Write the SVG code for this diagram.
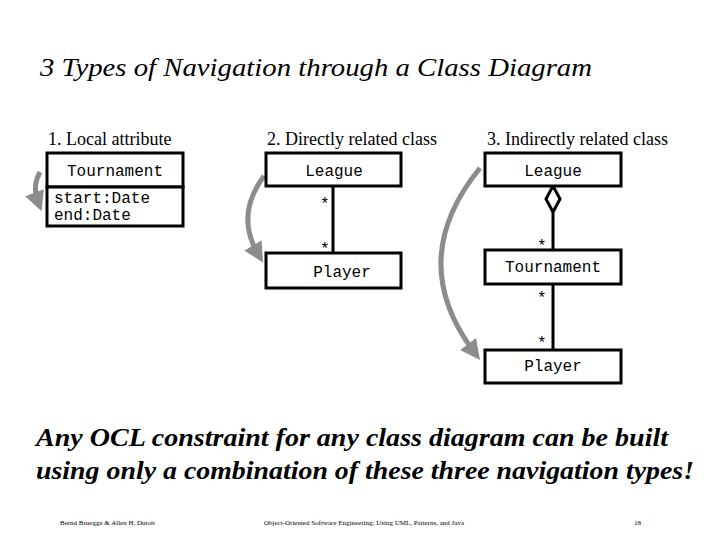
<svg xmlns="http://www.w3.org/2000/svg" width="720" height="540" viewBox="0 0 720 540">
<style>
.box{fill:#fff;stroke:#000;stroke-width:3}
.mono{font-family:"Liberation Mono","Courier New",monospace;font-size:16px}
.serif{font-family:"Liberation Serif","DejaVu Serif",serif}
.ln{stroke:#000;stroke-width:3;fill:none}
.nav{stroke:#8c8c8c;stroke-width:5;fill:none;marker-end:url(#ah)}
</style>
<defs>
<marker id="ah" markerWidth="4" markerHeight="4" refX="2" refY="2" orient="auto" markerUnits="strokeWidth"><path d="M0,0 L4,2 L0,4 Z" fill="#8c8c8c"/></marker>
</defs>
<rect width="720" height="540" fill="#fff"/>
<text x="40" y="76" class="serif" font-size="26" font-style="italic" textLength="552" lengthAdjust="spacingAndGlyphs">3 Types of Navigation through a Class Diagram</text>
<text x="48" y="145" class="serif" font-size="18">1. Local attribute</text>
<text x="267" y="145" class="serif" font-size="18">2. Directly related class</text>
<text x="487" y="145" class="serif" font-size="18">3. Indirectly related class</text>
<g id="connectors">
<line class="ln" x1="333" y1="186" x2="333" y2="253"/>
<line class="ln" x1="553" y1="210" x2="553" y2="250"/>
<line class="ln" x1="553" y1="284" x2="553" y2="350"/>
<path d="M553,186 L560,199 L553,212 L546,199 Z" fill="#fff" stroke="#000" stroke-width="3"/>
<text x="320" y="209" class="mono">*</text>
<text x="320" y="254" class="mono">*</text>
<text x="537" y="251" class="mono">*</text>
<text x="537" y="303" class="mono">*</text>
<text x="537" y="348" class="mono">*</text>
<path class="nav" d="M40,172 Q32,186 38,202"/>
<path class="nav" d="M264,176 Q235,215 258,254"/>
<path class="nav" d="M480,168 Q405,260 474,352"/>
</g>
<g id="tournament1">
<rect class="box" x="47" y="153" width="136" height="34"/>
<rect class="box" x="47" y="187" width="136" height="39"/>
<text x="115" y="176" class="mono" text-anchor="middle">Tournament</text>
<text x="54" y="203" class="mono">start:Date</text>
<text x="54" y="220" class="mono">end:Date</text>
</g>
<g id="league2"><rect class="box" x="266" y="153" width="135" height="33"/><text x="334" y="176" class="mono" text-anchor="middle">League</text></g>
<g id="player2"><rect class="box" x="266" y="253" width="135" height="35"/><text x="342" y="277" class="mono" text-anchor="middle">Player</text></g>
<g id="league3"><rect class="box" x="485" y="153" width="136" height="33"/><text x="553" y="176" class="mono" text-anchor="middle">League</text></g>
<g id="tournament3"><rect class="box" x="485" y="250" width="136" height="34"/><text x="553" y="272" class="mono" text-anchor="middle">Tournament</text></g>
<g id="player3"><rect class="box" x="485" y="350" width="136" height="33"/><text x="553" y="371" class="mono" text-anchor="middle">Player</text></g>
<text x="36" y="446" class="serif" font-size="26" font-style="italic" font-weight="bold" textLength="632" lengthAdjust="spacingAndGlyphs">Any OCL constraint for any class diagram can be built</text>
<text x="36" y="479" class="serif" font-size="26" font-style="italic" font-weight="bold" textLength="658" lengthAdjust="spacingAndGlyphs">using only a combination of these three navigation types!</text>
<text x="60" y="525" class="serif" font-size="7">Bernd Bruegge &amp; Allen H. Dutoit</text>
<text x="264" y="525" class="serif" font-size="7">Object-Oriented Software Engineering: Using UML, Patterns, and Java</text>
<text x="634" y="525" class="serif" font-size="7">18</text>
</svg>
